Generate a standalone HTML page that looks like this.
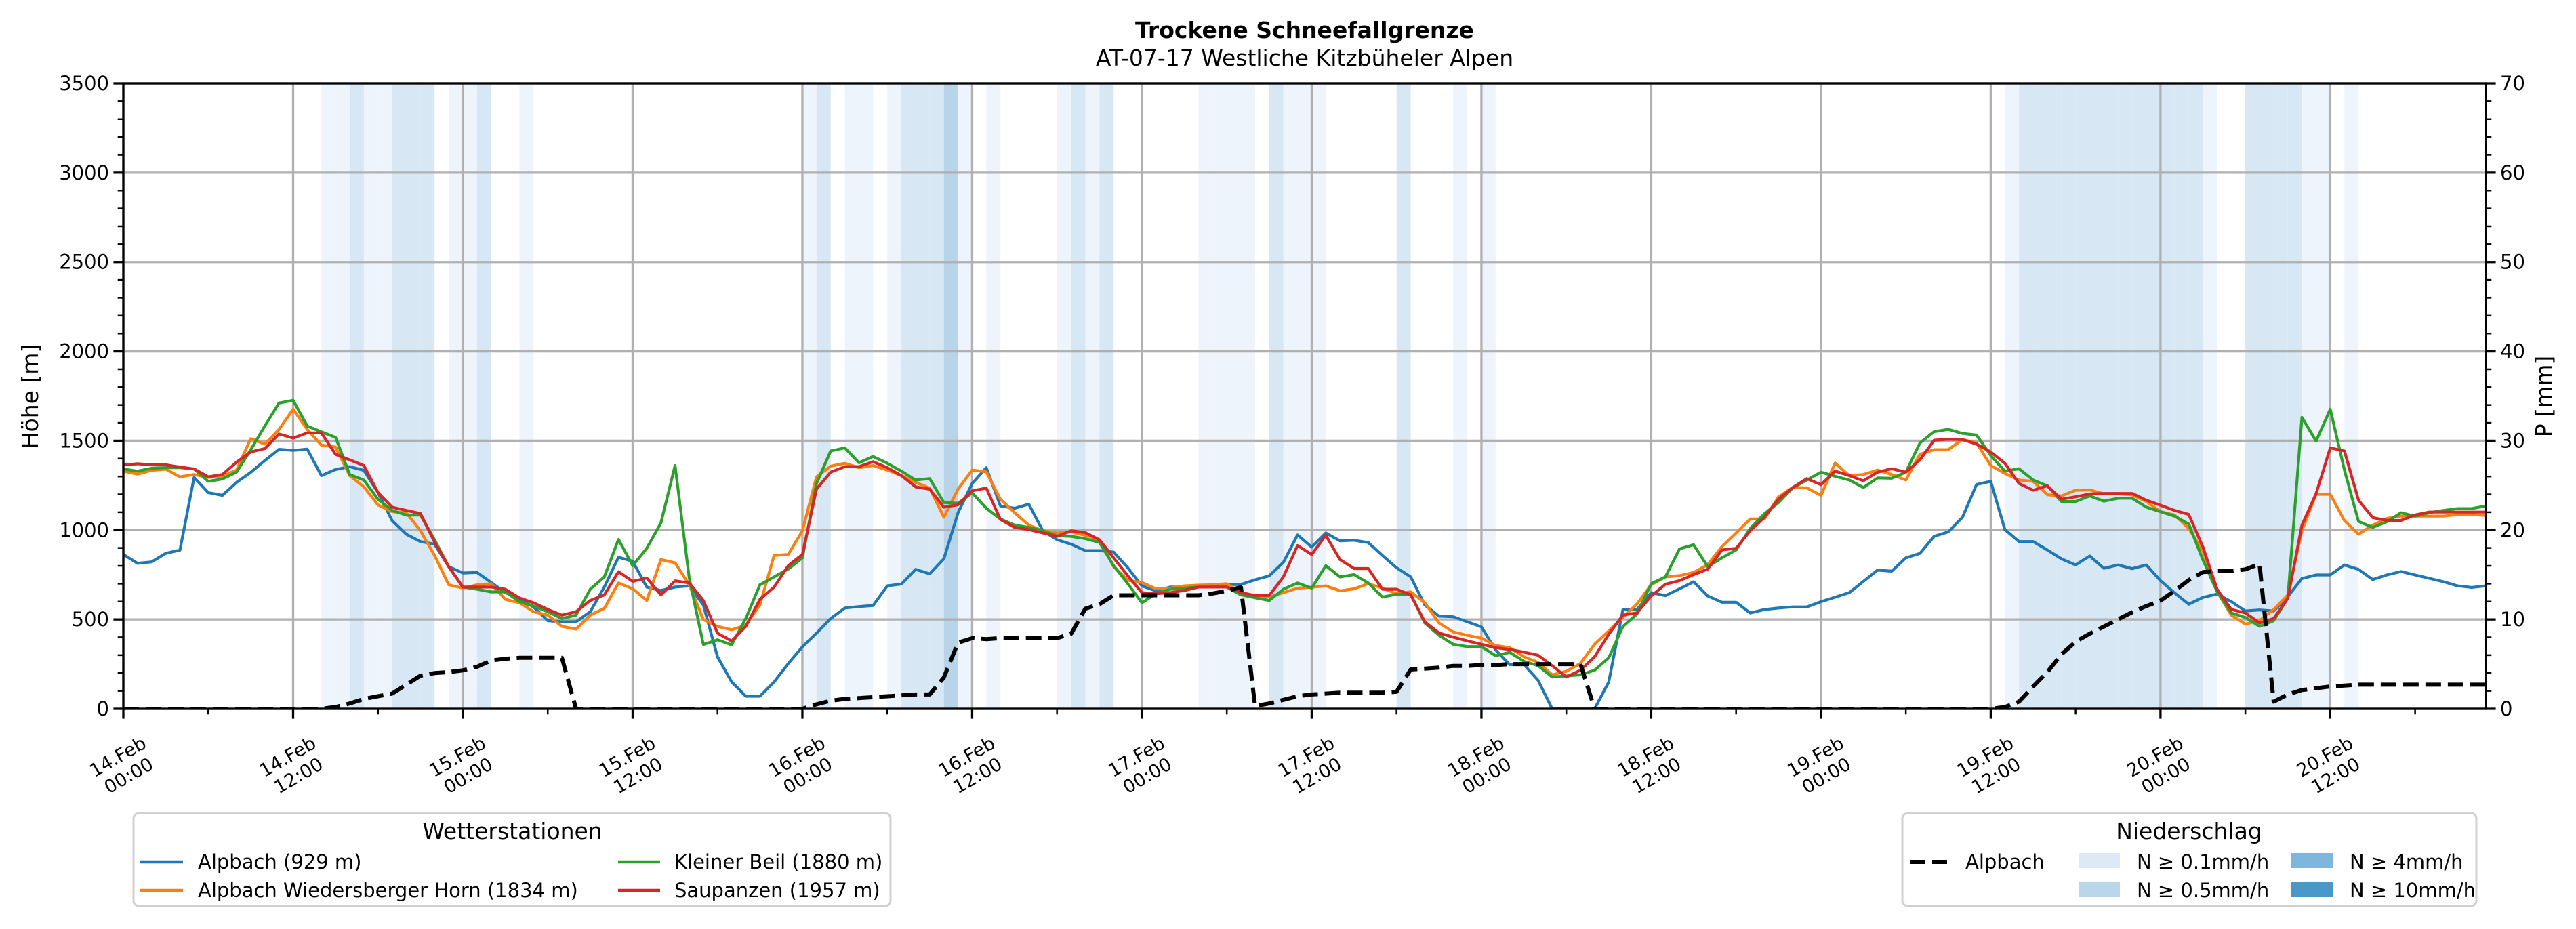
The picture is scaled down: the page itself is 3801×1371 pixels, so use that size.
<!DOCTYPE html>
<html><head><meta charset="utf-8">
<style>
html,body{margin:0;padding:0;background:#fff;}
svg{display:block;font-family:"DejaVu Sans","Liberation Sans",sans-serif;}
</style></head>
<body>
<svg id="chart" width="3801" height="1371" viewBox="0 0 3801 1371" xmlns="http://www.w3.org/2000/svg">
  <text x="1925" y="56" text-anchor="middle" font-size="33" font-weight="bold">Trockene Schneefallgrenze</text>
  <text x="1925" y="97" text-anchor="middle" font-size="33">AT-07-17 Westliche Kitzbüheler Alpen</text>
  <g id="bands"></g>
  <g id="grid"></g>
  <g id="series"></g>
  <g id="axes"></g>
  <text x="0" y="0" transform="translate(56,585) rotate(-90)" text-anchor="middle" font-size="33">Höhe [m]</text>
  <text x="0" y="0" transform="translate(3765,585) rotate(-90)" text-anchor="middle" font-size="33">P [mm]</text>

  <g>
    <rect x="197" y="1200" width="1117" height="137" rx="8" fill="#fff" stroke="#d0d0d0" stroke-width="3"/>
    <text x="756" y="1238" text-anchor="middle" font-size="33">Wetterstationen</text>
    <line x1="207" y1="1272" x2="270" y2="1272" stroke="#1f77b4" stroke-width="4.5"/>
    <text x="292" y="1282" font-size="29">Alpbach (929 m)</text>
    <line x1="207" y1="1314" x2="270" y2="1314" stroke="#ff7f0e" stroke-width="4.5"/>
    <text x="292" y="1324" font-size="29">Alpbach Wiedersberger Horn (1834 m)</text>
    <line x1="912" y1="1272" x2="974" y2="1272" stroke="#2ca02c" stroke-width="4.5"/>
    <text x="995" y="1282" font-size="29">Kleiner Beil (1880 m)</text>
    <line x1="912" y1="1314" x2="974" y2="1314" stroke="#d62728" stroke-width="4.5"/>
    <text x="995" y="1324" font-size="29">Saupanzen (1957 m)</text>
  </g>

  <g>
    <rect x="2807" y="1200" width="847" height="137" rx="8" fill="#fff" stroke="#d0d0d0" stroke-width="3"/>
    <text x="3230" y="1238" text-anchor="middle" font-size="33">Niederschlag</text>
    <line x1="2818" y1="1272" x2="2873" y2="1272" stroke="#000" stroke-width="6" stroke-dasharray="23 10"/>
    <text x="2900" y="1282" font-size="29">Alpbach</text>
    <rect x="3067" y="1259" width="61" height="22" fill="#dde9f5"/>
    <text x="3153" y="1282" font-size="29">N ≥ 0.1mm/h</text>
    <rect x="3067" y="1302" width="61" height="22" fill="#bad6eb"/>
    <text x="3153" y="1324" font-size="29">N ≥ 0.5mm/h</text>
    <rect x="3381" y="1259" width="62" height="22" fill="#7fb6dc"/>
    <text x="3467" y="1282" font-size="29">N ≥ 4mm/h</text>
    <rect x="3381" y="1302" width="62" height="22" fill="#4a98c9"/>
    <text x="3467" y="1324" font-size="29">N ≥ 10mm/h</text>
  </g>
</svg>
<script>
const blue = [864,814,822,870,888,1295,1210,1194,1267,1323,1389,1452,1446,1453,1305,1339,1355,1334,1210,1053,977,936,921,795,760,763,707,650,615,569,493,487,487,543,681,848,826,681,662,681,688,581,291,150,70,70,150,253,347,423,505,564,572,578,688,698,780,755,839,1097,1261,1349,1135,1122,1145,996,946,921,885,885,877,789,688,659,681,681,688,688,694,696,722,744,820,973,905,984,940,943,930,858,789,738,581,518,515,487,458,329,247,247,160,0,0,0,0,150,555,556,650,633,671,711,631,596,596,536,555,564,570,570,599,624,650,713,776,770,845,870,965,990,1072,1255,1273,1003,936,936,889,839,805,855,786,805,784,805,717,648,585,623,642,600,547,553,547,628,729,749,749,805,780,723,749,768,749,730,711,688,679,688];
const orange = [1330,1313,1334,1341,1298,1311,1295,1301,1336,1512,1481,1563,1676,1563,1475,1465,1305,1242,1141,1103,1097,996,858,694,675,694,700,612,593,543,524,461,446,524,562,704,672,606,835,817,694,499,461,442,467,581,858,864,996,1298,1358,1374,1349,1361,1336,1305,1267,1235,1072,1229,1336,1326,1172,1097,1028,996,984,990,971,946,795,719,707,671,675,688,692,694,700,650,628,625,650,675,680,688,660,671,700,675,644,654,593,480,430,411,395,354,342,291,260,190,210,254,361,436,512,587,694,738,745,763,807,908,984,1063,1062,1186,1238,1236,1194,1375,1305,1311,1336,1311,1280,1425,1450,1450,1507,1488,1361,1317,1280,1273,1198,1191,1223,1225,1203,1203,1197,1160,1103,1084,1009,883,656,524,474,493,556,637,996,1200,1200,1053,977,1028,1066,1078,1078,1078,1078,1087,1087,1082];
const green = [1342,1330,1346,1349,1349,1342,1273,1286,1324,1449,1582,1711,1726,1582,1550,1519,1311,1280,1172,1110,1084,1084,946,795,681,669,654,654,600,574,543,505,524,669,738,948,801,898,1040,1361,732,360,386,358,505,694,738,782,845,1261,1443,1460,1377,1412,1374,1330,1280,1288,1154,1150,1208,1122,1062,1028,1015,996,968,965,952,931,801,700,593,644,669,675,681,681,681,637,621,606,669,704,675,801,738,751,704,625,641,641,480,411,361,348,348,297,316,266,241,178,184,190,216,285,461,530,700,738,895,918,795,845,889,1009,1091,1154,1236,1280,1324,1301,1280,1238,1292,1290,1324,1488,1551,1564,1541,1532,1418,1330,1343,1280,1248,1160,1160,1191,1162,1178,1178,1128,1103,1078,1034,833,656,536,511,461,493,619,1631,1498,1677,1336,1049,1015,1047,1097,1078,1097,1110,1120,1120,1135];
const red = [1364,1371,1365,1365,1353,1342,1298,1311,1380,1437,1456,1538,1515,1544,1544,1424,1393,1361,1210,1128,1110,1093,933,795,681,681,681,669,620,593,556,524,543,606,637,767,713,732,637,716,704,606,423,379,461,612,681,801,864,1229,1324,1355,1355,1383,1349,1305,1242,1229,1128,1141,1220,1235,1059,1015,1003,984,965,996,986,946,845,744,650,644,650,662,681,681,681,650,634,634,738,914,863,971,835,785,785,669,669,637,486,424,401,380,361,342,332,317,300,241,178,216,291,417,524,537,631,697,717,751,782,889,898,996,1072,1173,1238,1288,1254,1330,1305,1276,1324,1343,1324,1393,1503,1508,1506,1481,1437,1374,1261,1223,1248,1173,1186,1202,1205,1205,1205,1167,1139,1110,1088,905,669,556,536,480,505,619,1028,1204,1460,1443,1167,1070,1054,1054,1085,1101,1101,1101,1101,1101];
const precipSum = [0,0,0,0,0,0,0,0,0,0,0,0,0,0,0,0.2,0.6,1.1,1.4,1.7,2.7,3.7,4.0,4.1,4.3,4.7,5.4,5.6,5.7,5.7,5.7,5.7,0,0,0,0,0,0,0,0,0,0,0,0,0,0,0,0,0,0.5,0.9,1.1,1.2,1.3,1.4,1.5,1.6,1.6,3.5,7.4,7.9,7.8,7.9,7.9,7.9,7.9,7.9,8.4,11.2,11.7,12.7,12.7,12.7,12.7,12.7,12.7,12.7,12.9,13.2,13.6,0.3,0.6,1.0,1.4,1.6,1.7,1.8,1.8,1.8,1.8,1.9,4.4,4.5,4.6,4.8,4.8,4.9,4.9,5.0,5.0,5.0,5.0,5.0,5.0,0,0,0,0,0,0,0,0,0,0,0,0,0,0,0,0,0,0,0,0,0,0,0,0,0,0,0,0,0,0.2,0.8,2.5,4.1,6.1,7.5,8.4,9.2,10.0,10.8,11.5,12.1,13.2,14.4,15.3,15.4,15.4,15.6,16.2,0.8,1.6,2.1,2.3,2.5,2.6,2.7,2.7,2.7,2.7,2.7,2.7,2.7,2.7,2.7,2.7];
const lightHours = [14,15,17,18,23,24,28,48,51,52,54,59,61,66,68,76,77,78,79,82,83,84,94,96,133,147,154,155,157];
const mediumHours = [16,19,20,21,25,49,55,56,57,67,69,81,90,134,135,136,137,138,139,140,141,142,143,144,145,146,150,151,152,153];
const darkHours = [58];
const xTickLabels = [["14.Feb","00:00"],["14.Feb","12:00"],["15.Feb","00:00"],["15.Feb","12:00"],["16.Feb","00:00"],["16.Feb","12:00"],["17.Feb","00:00"],["17.Feb","12:00"],["18.Feb","00:00"],["18.Feb","12:00"],["19.Feb","00:00"],["19.Feb","12:00"],["20.Feb","00:00"],["20.Feb","12:00"]];
const yTicks = [0,500,1000,1500,2000,2500,3000,3500];
const y2Ticks = [0,10,20,30,40,50,60,70];

const NS="http://www.w3.org/2000/svg";
const L=182,R=3668,T=123,B=1046,HMAX=167;
function xs(h){return L+h*(R-L)/HMAX;}
function ys(v){return B-v*(B-T)/3500;}
function y2s(p){return B-p*(B-T)/70;}
function mk(tag,attrs,parent){const e=document.createElementNS(NS,tag);for(const k in attrs)e.setAttribute(k,attrs[k]);parent.appendChild(e);return e;}

const bands=document.getElementById('bands');
function drawBands(list,color,name){
  list.forEach(h=>{
    const r=mk('rect',{x:xs(h),y:T,width:xs(h+1)-xs(h),height:B-T,fill:color},bands);
    
    
  });
}
drawBands(lightHours,'#eef4fb','precip-band-light');
drawBands(mediumHours,'#d7e7f4','precip-band-medium');
drawBands(darkHours,'#b7d4e9','precip-band-dark');

const grid=document.getElementById('grid');
xTickLabels.forEach((lab,i)=>{
  const g=mk('line',{x1:xs(i*12),x2:xs(i*12),y1:T,y2:B,stroke:'#b0b0b0','stroke-width':3.3},grid);
  
  
});
yTicks.forEach(v=>{
  const g=mk('line',{x1:L,x2:R,y1:ys(v),y2:ys(v),stroke:'#b0b0b0','stroke-width':3.3},grid);
  
  
});

const series=document.getElementById('series');
const cp=mk('clipPath',{id:'clip'},series);
mk('rect',{x:L,y:T,width:R-L,height:B-T},cp);
function drawLine(arr,color,name,scale,extra){
  const pts=arr.map((v,i)=>xs(i).toFixed(1)+','+scale(v).toFixed(1)).join(' ');
  const attrs={points:pts,fill:'none',stroke:color,'stroke-width':4.2,'stroke-linejoin':'round','clip-path':'url(#clip)'};
  Object.assign(attrs,extra||{});
  const p=mk('polyline',attrs,series);
  
  
}
drawLine(blue,'#1f77b4','line-alpbach',ys);
drawLine(orange,'#ff7f0e','line-wiedersberger-horn',ys);
drawLine(green,'#2ca02c','line-kleiner-beil',ys);
drawLine(red,'#d62728','line-saupanzen',ys);
drawLine(precipSum,'#000','line-precip-alpbach',y2s,{'stroke-width':6,'stroke-dasharray':'23 10','stroke-linejoin':'round'});

const axes=document.getElementById('axes');
mk('rect',{x:L,y:T,width:R-L,height:B-T,fill:'none',stroke:'#000','stroke-width':3.3},axes);
for(let v=0;v<=3500;v+=100){
  const major=v%500===0;
  const len=major?14.6:8.3, w=major?3.3:2.5;
  mk('line',{x1:L,x2:L-len,y1:ys(v),y2:ys(v),stroke:'#000','stroke-width':w},axes);
  mk('line',{x1:R,x2:R+len,y1:ys(v),y2:ys(v),stroke:'#000','stroke-width':w},axes);
}
yTicks.forEach(v=>{
  const t=mk('text',{x:L-21,y:ys(v)+10,'text-anchor':'end','font-size':29},axes);
  t.textContent=String(v);
  
  
});
y2Ticks.forEach(p=>{
  const t=mk('text',{x:R+21,y:y2s(p)+10,'text-anchor':'start','font-size':29},axes);
  t.textContent=String(p);
  
  
});
for(let h=0;h<=HMAX;h+=6){
  const major=h%12===0;
  mk('line',{x1:xs(h),x2:xs(h),y1:B,y2:B+(major?14.6:8.3),stroke:'#000','stroke-width':major?3.3:2.5},axes);
}
xTickLabels.forEach((lab,i)=>{
  const g=mk('g',{transform:`translate(${xs(i*12).toFixed(1)},1131) rotate(-30)`},axes);
  const t=mk('text',{x:0,y:0,'text-anchor':'middle','font-size':27},g);
  
  
  const a=mk('tspan',{x:0,y:-7},t); a.textContent=lab[0];
  const b=mk('tspan',{x:0,y:25},t); b.textContent=lab[1];
});
</script>
</body></html>
